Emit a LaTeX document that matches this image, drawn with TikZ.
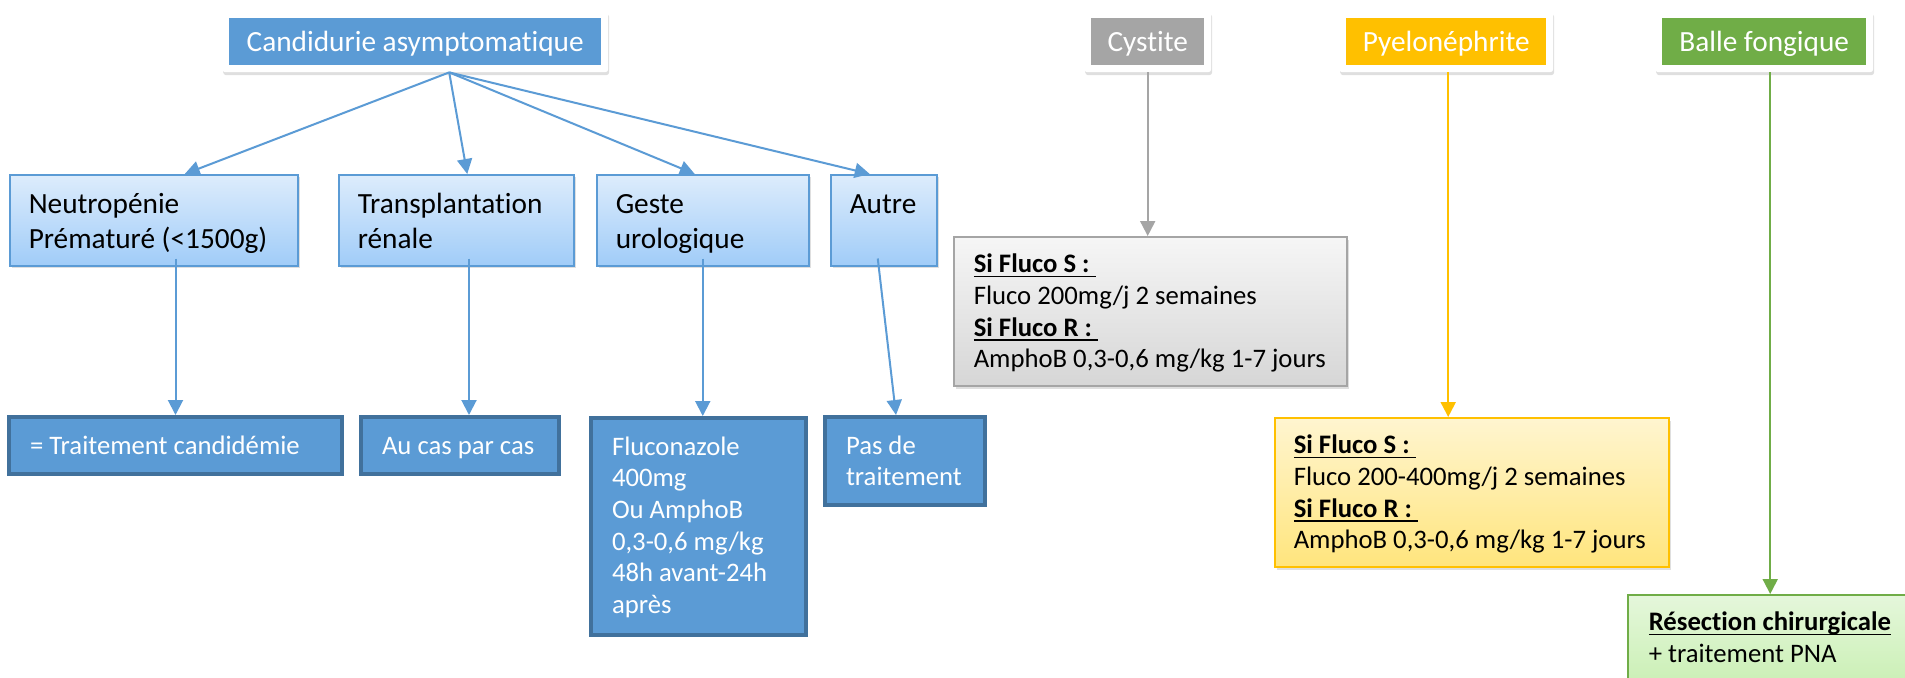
\documentclass[tikz,border=0pt]{standalone}
\usepackage{fontspec}
\setmainfont{Carlito}[Ligatures=NoCommon]
\usetikzlibrary{arrows.meta,shadows,calc}

\definecolor{accblue}{RGB}{91,155,213}
\definecolor{darkblue}{RGB}{65,113,156}
\definecolor{accgray}{RGB}{165,165,165}
\definecolor{accgold}{RGB}{255,192,0}
\definecolor{accgreen}{RGB}{112,173,71}
\definecolor{kidtop}{RGB}{221,236,252}
\definecolor{kidbot}{RGB}{160,204,248}
\definecolor{graytop}{RGB}{246,246,246}
\definecolor{graybot}{RGB}{214,214,214}
\definecolor{goldtop}{RGB}{255,245,208}
\definecolor{goldbot}{RGB}{255,229,125}
\definecolor{greentop}{RGB}{229,247,219}
\definecolor{greenbot}{RGB}{196,238,172}

\newcommand{\souligne}[1]{\leavevmode\sbox0{#1}\rlap{\rule[-4.6pt]{\wd0}{1.8pt}}\usebox0}
\newcommand{\plainspace}{\spaceskip=0pt\relax\xspaceskip=0pt\relax}

\tikzset{
  hdr/.style={anchor=north west, minimum height=61pt, rounded corners=3pt, fill=white,
    drop shadow={shadow xshift=1pt, shadow yshift=-3pt, opacity=0.25},
    text=white, font=\fontsize{29.3}{35}\selectfont, text height=19pt, text depth=0pt,
    path picture={\fill[#1, sharp corners] ([shift={(7pt,-7pt)}]path picture bounding box.north west)
      rectangle ([shift={(-7pt,7pt)}]path picture bounding box.south east);}},
  kid/.style={anchor=north west, draw=accblue, line width=1.5pt, top color=kidtop, bottom color=kidbot,
    drop shadow={shadow xshift=2pt, shadow yshift=-2pt, opacity=0.25},
    align=left, inner xsep=19pt, inner ysep=0pt, text height=39pt, text depth=52pt,
    font=\fontsize{29.3}{35}\selectfont, execute at begin node=\plainspace},
  res/.style={anchor=north west, fill=accblue, draw=darkblue, line width=4pt, text=white,
    align=left, inner xsep=21pt, inner ysep=0pt, text height=37pt,
    font=\fontsize{26.7}{31.7}\selectfont, execute at begin node=\plainspace},
  note/.style={anchor=north west, line width=1.5pt, align=left, inner xsep=20pt, inner ysep=0pt,
    text height=36pt, drop shadow={shadow xshift=2pt, shadow yshift=-3pt, opacity=0.25},
    font=\fontsize{26.7}{31.7}\selectfont, execute at begin node=\plainspace},
  link/.style={draw=#1, line width=2pt, -{Triangle[length=15pt,width=15pt]}}
}

\begin{document}
\begin{tikzpicture}[x=1pt, y=-1pt]
  % page
  \fill[white] (0,0) rectangle (1905,677);
  \useasboundingbox (0,0) rectangle (1905,677);

  % Headers
  \node[hdr=accblue, minimum width=386pt] (cand) at (222,11) {Candidurie asymptomatique};
  \node[hdr=accgray, minimum width=127pt] (cyst) at (1084,11) {Cystite};
  \node[hdr=accgold, minimum width=214pt] (pyelo) at (1339,11) {Pyelonéphrite};
  \node[hdr=accgreen, minimum width=218pt] (balle) at (1655,11) {Balle fongique};

  % Situations
  \node[kid, text width=250pt] (neut) at (9,174) {Neutropénie\\Prématuré (<1500g)};
  \node[kid, text width=197pt] (trans) at (338,174) {Transplantation\\rénale};
  \node[kid, text width=174pt] (geste) at (596,174) {Geste\\urologique};
  \node[kid, text width=68pt] (autre) at (830,174) {Autre};

  % Treatments
  \node[res, text width=291pt, text depth=20pt] (trait) at (7,415) {= Traitement candidémie};
  \node[res, text width=156pt, text depth=20pt] (cas) at (359,415) {Au cas par cas};
  \node[res, text width=173pt, text depth=180pt] (fluco) at (589,416)
    {Fluconazole\\400mg\\Ou AmphoB\\0,3-0,6 mg/kg\\48h avant-24h\\après};
  \node[res, text width=118pt, text depth=51pt] (pas) at (823,415) {Pas de\\traitement};

  \node[note, draw=accgray, top color=graytop, bottom color=graybot, text width=353pt, text depth=113pt]
    (cystbox) at (953,236)
    {\souligne{\textbf{Si Fluco S :}\ }\\Fluco 200mg/j 2 semaines\\\souligne{\textbf{Si Fluco R :}\ }\\AmphoB 0,3-0,6 mg/kg 1-7 jours};
  \node[note, draw=accgold, top color=goldtop, bottom color=goldbot, inner xsep=19pt, text width=356pt, text depth=113pt]
    (pyebox) at (1274,417)
    {\souligne{\textbf{Si Fluco S :}\ }\\Fluco 200-400mg/j 2 semaines\\\souligne{\textbf{Si Fluco R :}\ }\\AmphoB 0,3-0,6 mg/kg 1-7 jours};
  \node[note, draw=accgreen, top color=greentop, bottom color=greenbot, inner xsep=21pt, text width=278pt, text depth=75pt]
    (resect) at (1627,594)
    {\souligne{\textbf{Résection chirurgicale}}\\+ traitement PNA};

  % Arrows
  \coordinate (fan) at ([xshift=34pt]cand.south);
  \foreach \t/\dx in {neut/31, trans/11, geste/-8, autre/-14}
    \draw[link=accblue] (fan) -- ([xshift=\dx pt]\t.north);

  \draw[link=accblue] ($(trait.north |- neut.south)+(0,-8)$) -- (trait.north);
  \draw[link=accblue] ($(cas.north |- trans.south)+(9,-8)$) -- ([xshift=9pt]cas.north);
  \draw[link=accblue] ($(geste.south)+(0,-8)$) -- (geste.south |- fluco.north);
  \draw[link=accblue] ($(autre.south)+(-6,-8)$) -- ([xshift=-9pt]pas.north);

  \draw[link=accgray] (cyst.south) -- (cyst.south |- cystbox.north);
  \coordinate (pfoot) at ([xshift=2pt]pyelo.south);
  \draw[link=accgold] (pfoot) -- (pfoot |- pyebox.north);
  \coordinate (bfoot) at ([xshift=6pt]balle.south);
  \draw[link=accgreen] (bfoot) -- (bfoot |- resect.north);
\end{tikzpicture}
\end{document}
